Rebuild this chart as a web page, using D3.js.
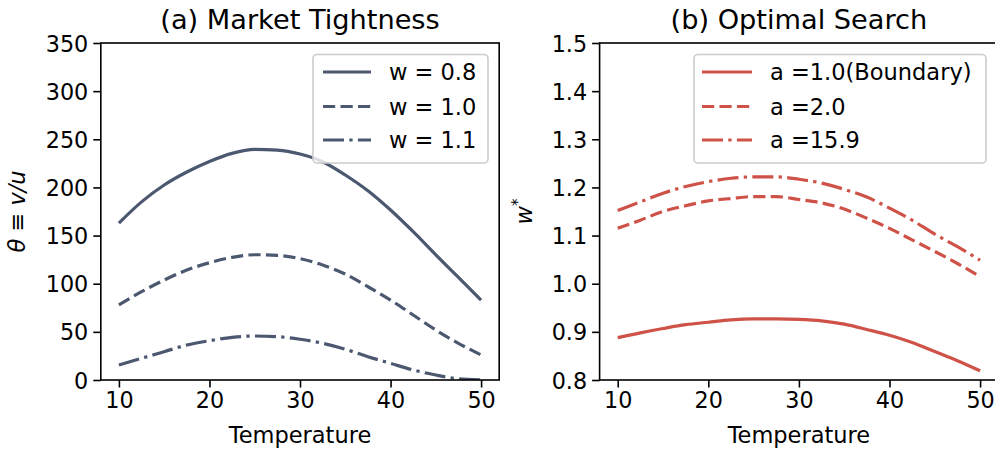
<!DOCTYPE html>
<html>
<head>
<meta charset="utf-8">
<script src="https://cdn.jsdelivr.net/npm/d3@7"></script>
<style>
  html, body { margin: 0; padding: 0; background: #ffffff; }
  svg { display: block; font-family: "DejaVu Sans", sans-serif; }
</style>
</head>
<body>
<svg id="chart" width="995" height="450"></svg>
<script>
// ---------------- data ----------------
const temperature = [10, 12.5, 15, 17.5, 20, 22.5, 25, 27.5, 30, 32.5, 35, 37.5, 40, 42.5, 45, 47.5, 50];

// Panel (a): market tightness theta = v/u
const thetaW08 = [163, 185, 202.5, 216, 227, 235.4, 239.5, 238.8, 234.7, 226.7, 212.9, 196.5, 176.5, 154, 130, 106.5, 83];
const thetaW10 = [77.9, 91.7, 103.8, 114.2, 121.8, 127.4, 130.1, 129.5, 126, 119.4, 110, 96.9, 83, 67.5, 51.9, 38.1, 26];
const thetaW11 = [15.6, 22.5, 29.4, 36.3, 40.8, 44.3, 45.7, 45, 42.3, 38.1, 31.9, 24.2, 17.3, 10.4, 5.2, 1.2, 0];

// Panel (b): optimal search w*
const wA10 = [0.888, 0.898, 0.907, 0.915, 0.920, 0.925, 0.927, 0.927, 0.926, 0.923, 0.916, 0.905, 0.893, 0.878, 0.859, 0.840, 0.819];
const wA20 = [1.115, 1.132, 1.150, 1.162, 1.172, 1.177, 1.181, 1.181, 1.175, 1.168, 1.155, 1.136, 1.115, 1.091, 1.067, 1.042, 1.015];
const wA159 = [1.152, 1.170, 1.188, 1.202, 1.212, 1.219, 1.222, 1.222, 1.217, 1.209, 1.196, 1.180, 1.157, 1.132, 1.103, 1.077, 1.049];

const xTicks = [10, 20, 30, 40, 50];
const yTicksA = [0, 50, 100, 150, 200, 250, 300, 350];
const yTicksB = [0.8, 0.9, 1.0, 1.1, 1.2, 1.3, 1.4, 1.5];

const labelsA = ["w = 0.8", "w = 1.0", "w = 1.1"];
const labelsB = ["a =1.0(Boundary)", "a =2.0", "a =15.9"];

// ---------------- styling ----------------
const colorA = "#4b5870";
const colorB = "#cf5248";
const lw = 3.2;
const dashes = [null, "12.2,5.3", "21,5.3,3.3,5.3"];
const tickFont = 22.3;
const labelFont = 22.5;

const svg = d3.select("#chart");

function panel(opts) {
  const { x0, x1, y0, y1, xDomain, yDomain, yTicks, yFmt, series, labels, color, title, legendBox } = opts;
  const x = d3.scaleLinear().domain(xDomain).range([x0, x1]);
  const y = d3.scaleLinear().domain(yDomain).range([y1, y0]);

  const g = svg.append("g");
  const clipId = "clip" + Math.round(x0);
  svg.append("clipPath").attr("id", clipId)
    .append("rect").attr("x", x0).attr("y", y0).attr("width", x1 - x0).attr("height", y1 - y0);

  // lines
  const line = d3.line().x((d, i) => x(temperature[i])).y(d => y(d)).curve(d3.curveMonotoneX);
  series.forEach((s, k) => {
    g.append("path")
      .attr("clip-path", `url(#${clipId})`)
      .attr("d", line(s))
      .attr("fill", "none")
      .attr("stroke", color)
      .attr("stroke-width", lw)
      .attr("stroke-linecap", "butt")
      .attr("stroke-linejoin", "round")
      .attr("stroke-dasharray", dashes[k]);
  });

  // axes
  const xAxis = d3.axisBottom(x).tickValues(xTicks).tickSize(7.5).tickPadding(5).tickFormat(d3.format("d"));
  const yAxis = d3.axisLeft(y).tickValues(yTicks).tickSize(7.5).tickPadding(5).tickFormat(yFmt);
  const gx = g.append("g").attr("transform", `translate(0,${y1})`).call(xAxis);
  const gy = g.append("g").attr("transform", `translate(${x0},0)`).call(yAxis);
  [gx, gy].forEach(a => {
    a.select(".domain").remove();
    a.selectAll("line").attr("stroke", "#000").attr("stroke-width", 1.6);
    a.selectAll("text").attr("font-size", tickFont).attr("fill", "#000")
      .attr("font-family", "DejaVu Sans, sans-serif");
  });
  gy.selectAll("text").attr("dy", "0.36em");

  // spines
  g.append("rect").attr("x", x0).attr("y", y0).attr("width", x1 - x0).attr("height", y1 - y0)
    .attr("fill", "none").attr("stroke", "#000").attr("stroke-width", 1.6);

  // title
  g.append("text").attr("x", (x0 + x1) / 2).attr("y", 29).attr("text-anchor", "middle")
    .attr("font-size", 27.2).attr("fill", "#000").text(title);

  // x label
  g.append("text").attr("x", (x0 + x1) / 2).attr("y", 443).attr("text-anchor", "middle")
    .attr("font-size", labelFont).attr("fill", "#000").text("Temperature");

  // legend
  const lg = g.append("g");
  lg.append("rect").attr("x", legendBox.x).attr("y", legendBox.y)
    .attr("width", legendBox.w).attr("height", legendBox.h)
    .attr("rx", 4).attr("ry", 4)
    .attr("fill", "#ffffff").attr("fill-opacity", 0.8)
    .attr("stroke", "#cccccc").attr("stroke-width", 1.6);
  const rowY = [72, 106.5, 140];
  labels.forEach((lab, k) => {
    lg.append("line")
      .attr("x1", legendBox.lx1).attr("x2", legendBox.lx2)
      .attr("y1", rowY[k]).attr("y2", rowY[k])
      .attr("stroke", color).attr("stroke-width", lw)
      .attr("stroke-dasharray", dashes[k]);
    lg.append("text").attr("x", legendBox.tx).attr("y", rowY[k]).attr("dy", "0.36em")
      .attr("font-size", labelFont).attr("fill", "#000").text(lab);
  });
  return g;
}

panel({
  x0: 100.8, x1: 499.2, y0: 43, y1: 380,
  xDomain: [8, 52], yDomain: [0, 350],
  yTicks: yTicksA, yFmt: d3.format("d"),
  series: [thetaW08, thetaW10, thetaW11],
  labels: labelsA, color: colorA,
  title: "(a) Market Tightness",
  legendBox: { x: 313, y: 54.5, w: 175, h: 108.5, lx1: 323, lx2: 371, tx: 389 }
});

panel({
  x0: 599.6, x1: 998.2, y0: 43, y1: 380,
  xDomain: [8, 52], yDomain: [0.8, 1.5],
  yTicks: yTicksB, yFmt: d3.format(".1f"),
  series: [wA10, wA20, wA159],
  labels: labelsB, color: colorB,
  title: "(b) Optimal Search",
  legendBox: { x: 694, y: 54.5, w: 292, h: 108.5, lx1: 702, lx2: 752, tx: 770 }
});

// y labels (math text)
const yl1 = svg.append("text")
  .attr("transform", "translate(25,211.5) rotate(-90)")
  .attr("text-anchor", "middle").attr("font-size", labelFont).attr("fill", "#000");
yl1.append("tspan").attr("font-style", "italic").text("θ");
yl1.append("tspan").text(" ≡ ");
yl1.append("tspan").attr("font-style", "italic").text("v/u");

const yl2 = svg.append("text")
  .attr("transform", "translate(532,211.5) rotate(-90)")
  .attr("text-anchor", "middle").attr("font-size", labelFont).attr("fill", "#000");
yl2.append("tspan").attr("font-style", "italic").text("w");
yl2.append("tspan").attr("font-size", 15).attr("dy", "-0.6em").text("*");
</script>
</body>
</html>
